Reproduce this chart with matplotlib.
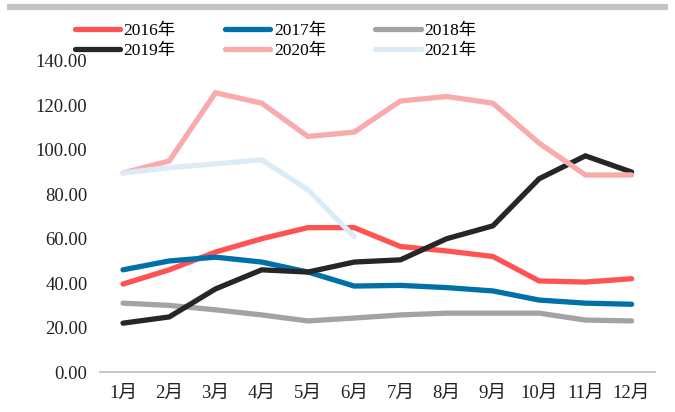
import matplotlib
matplotlib.use("Agg")
import matplotlib.pyplot as plt
from matplotlib.lines import Line2D

plt.rcParams['font.family'] = ['Liberation Serif', 'Noto Sans CJK SC']

months = ["1月", "2月", "3月", "4月", "5月", "6月", "7月", "8月", "9月", "10月", "11月", "12月"]
y2016 = [39.6, 46.0, 54.0, 60.0, 65.0, 65.0, 56.5, 54.5, 52.0, 41.0, 40.5, 42.0]
y2017 = [46.0, 50.0, 51.7, 49.5, 45.0, 38.7, 39.0, 38.0, 36.5, 32.4, 31.0, 30.5]
y2018 = [31.0, 30.0, 28.0, 25.7, 23.0, 24.3, 25.7, 26.5, 26.5, 26.5, 23.4, 23.0]
y2019 = [22.0, 24.8, 37.4, 46.0, 45.0, 49.5, 50.5, 60.0, 65.8, 87.0, 97.3, 90.0]
y2020 = [89.6, 95.0, 125.7, 121.0, 106.0, 108.0, 122.0, 124.0, 121.0, 103.0, 88.7, 88.7]
y2021 = [89.6, 92.0, 93.7, 95.5, 82.0, 61.0]

series = [
    ("2016年", y2016, "#FF5252"),
    ("2017年", y2017, "#0070A8"),
    ("2018年", y2018, "#A3A3A3"),
    ("2019年", y2019, "#262626"),
    ("2020年", y2020, "#F9ABAB"),
    ("2021年", y2021, "#DCECF7"),
]

fig = plt.figure(figsize=(6.75, 4.12), dpi=100)
ax = fig.add_axes([0.148, 0.097, 0.822, 0.755])

# grey bar across the top
fig.add_artist(Line2D([0.010, 0.990], [0.983, 0.983], transform=fig.transFigure,
                      color="#C4C4C4", linewidth=4.5, solid_capstyle="butt"))

handles = {}
for name, vals, col in series:
    ln, = ax.plot(range(len(vals)), vals, color=col, linewidth=3.8,
                  solid_capstyle="round", solid_joinstyle="miter", label=name)
    handles[name] = ln

ax.set_xlim(-0.5, 11.5)
ax.set_ylim(0, 140)
ax.set_yticks(range(0, 141, 20))
ax.set_yticklabels([f"{v:.2f}" for v in range(0, 141, 20)])
ax.set_xticks(range(12))
ax.set_xticklabels(months)
ax.tick_params(axis="both", length=0, labelsize=13.5, colors="#222222")
ax.tick_params(axis="y", pad=9)
ax.tick_params(axis="x", pad=9)
for s in ["top", "right", "left"]:
    ax.spines[s].set_visible(False)
ax.spines["bottom"].set_color("#C0C0C0")
ax.spines["bottom"].set_linewidth(1.3)

order = ["2016年", "2019年", "2017年", "2020年", "2018年", "2021年"]
fig.legend([handles[k] for k in order], order, ncol=3, frameon=False,
           loc="upper left", bbox_to_anchor=(0.088, 0.982), fontsize=12.5,
           handlelength=2.6, handletextpad=0.2, columnspacing=2.85,
           labelspacing=0.2)

fig.savefig("out.png", dpi=100)
